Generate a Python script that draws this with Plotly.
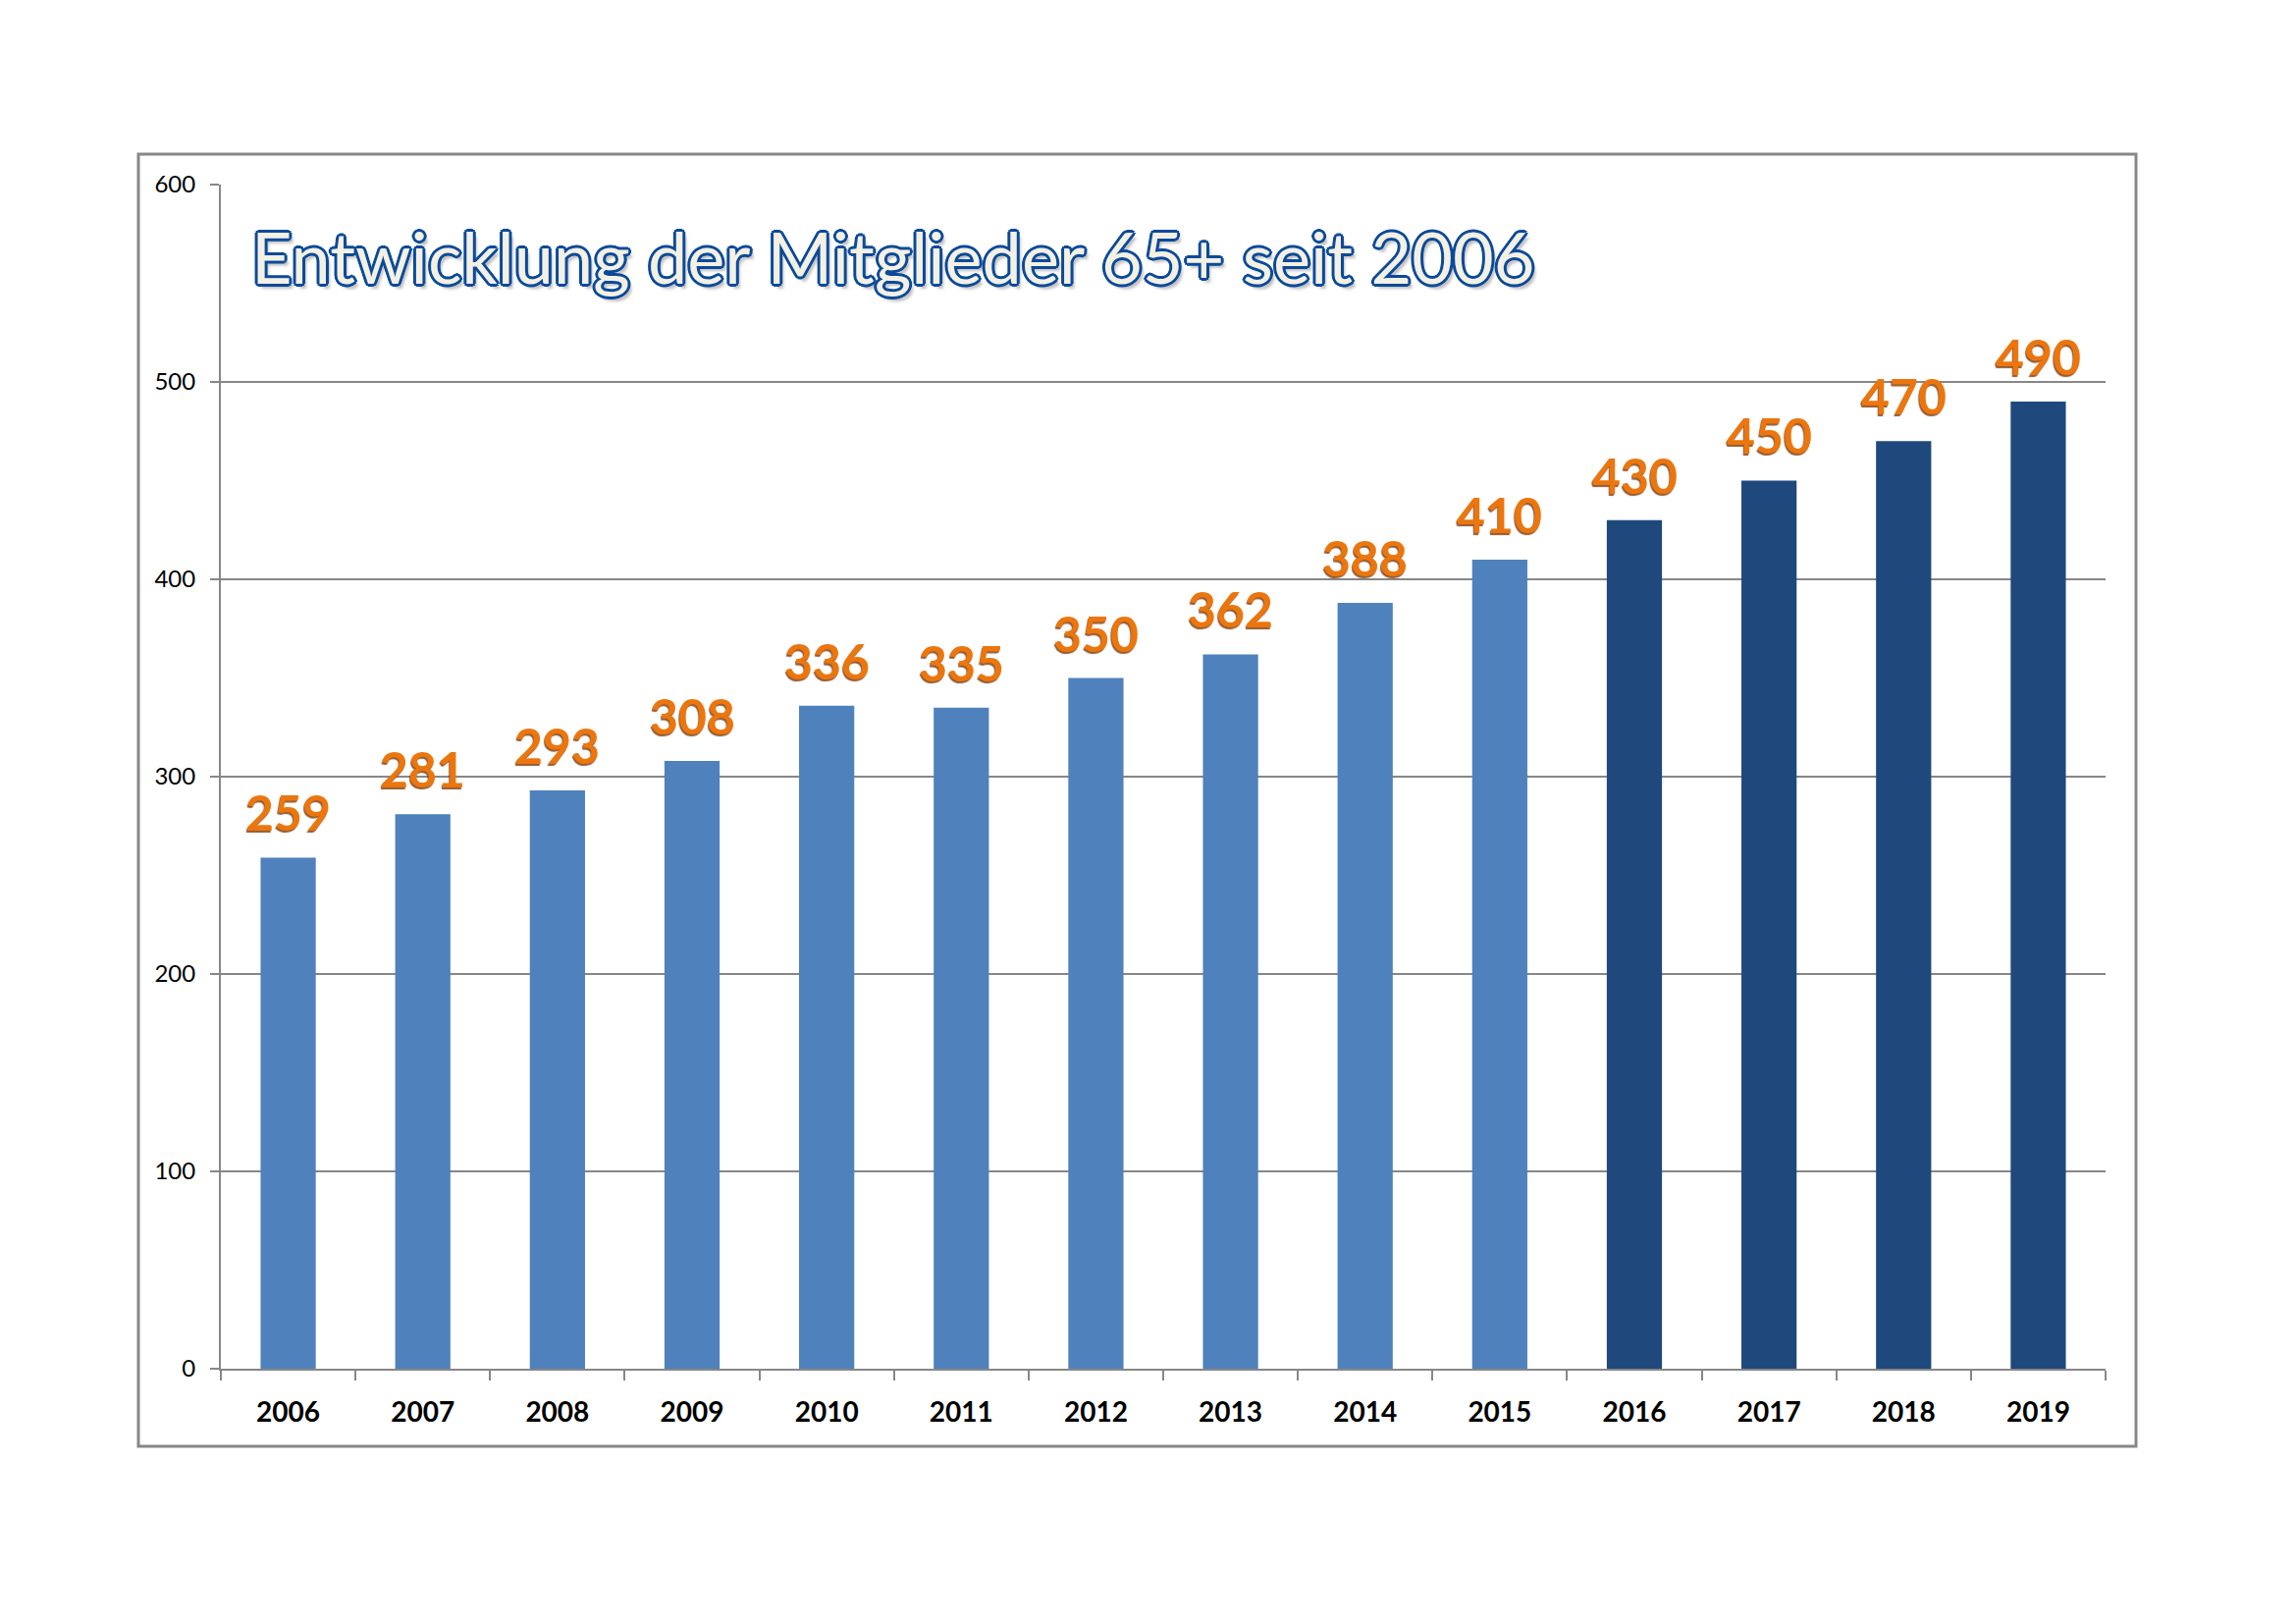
import plotly.graph_objects as go

W, H = 2339, 1654

years = ["2006", "2007", "2008", "2009", "2010", "2011", "2012",
         "2013", "2014", "2015", "2016", "2017", "2018", "2019"]
members = [259, 281, 293, 308, 336, 335, 350, 362, 388, 410, 430, 450, 470, 490]
bar_colors = ["#4F81BD"] * 10 + ["#1F497D"] * 4
title_text = "Entwicklung der Mitglieder 65+ seit 2006"
y_ticks = [0, 100, 200, 300, 400, 500, 600]

GRAY = "#878787"
OFF = 8  # page body margin

def px_x(p):
    return (p - OFF) / W

def px_y(p):
    return (H - (p - OFF)) / H

fig = go.Figure()
fig.add_trace(go.Bar(
    x=years, y=members,
    marker=dict(color=bar_colors, line=dict(width=0)),
    hoverinfo="skip",
))

# value labels (x given as category index on the category axis)
for i, v in enumerate(members):
    fig.add_annotation(
        x=i, y=v, xref="x", yref="y",
        text=str(v), showarrow=False,
        xanchor="center", yanchor="bottom", yshift=14,
        font=dict(family="Lato", size=50, weight="bold", color="#EC760E",
                  shadow="-1px 2px 1px rgba(120,50,0,0.8)"),
    )

# title
outline = "#0B4A9A"
shadow = ", ".join([
    f"3px 0 0 {outline}", f"-3px 0 0 {outline}", f"0 3px 0 {outline}", f"0 -3px 0 {outline}",
    f"2px 2px 0 {outline}", f"-2px -2px 0 {outline}", f"2px -2px 0 {outline}", f"-2px 2px 0 {outline}",
    "4px 5px 3px rgba(0,0,0,0.25)",
])
fig.add_annotation(
    x=px_x(254), y=px_y(261), xref="paper", yref="paper",
    text=title_text, showarrow=False, xanchor="left", yanchor="middle",
    font=dict(family="Lato", size=72, color="#F3F0E4", shadow=shadow),
)

# outer frame
fig.add_shape(type="rect", xref="paper", yref="paper",
              x0=px_x(141), x1=px_x(2176), y0=px_y(1473), y1=px_y(157),
              line=dict(color=GRAY, width=3), fillcolor="rgba(0,0,0,0)", layer="below")

fig.update_layout(
    width=W, height=H, autosize=False,
    margin=dict(l=0, r=0, t=0, b=0, pad=0),
    paper_bgcolor="white", plot_bgcolor="white",
    showlegend=False, bargap=0.59,
    xaxis=dict(
        domain=[px_x(225), px_x(2145)],
        type="category", showgrid=False, automargin=False,
        showline=True, linecolor=GRAY, linewidth=2,
        ticks="outside", tickson="boundaries", ticklen=10, tickwidth=2, tickcolor=GRAY,
        tickfont=dict(family="Lato", size=28, weight="bold", color="black"),
        ticklabelstandoff=18, tickangle=0,
    ),
    yaxis=dict(
        domain=[px_y(1394), px_y(188)],
        range=[0, 600], tickvals=y_ticks, automargin=False,
        showgrid=True, gridcolor=GRAY, gridwidth=2,
        showline=True, linecolor=GRAY, linewidth=2,
        ticks="outside", ticklen=9, tickwidth=2, tickcolor=GRAY,
        tickfont=dict(family="Lato", size=24, color="black"),
        ticklabelstandoff=10, zeroline=False,
    ),
)

fig.write_html("out.html")
